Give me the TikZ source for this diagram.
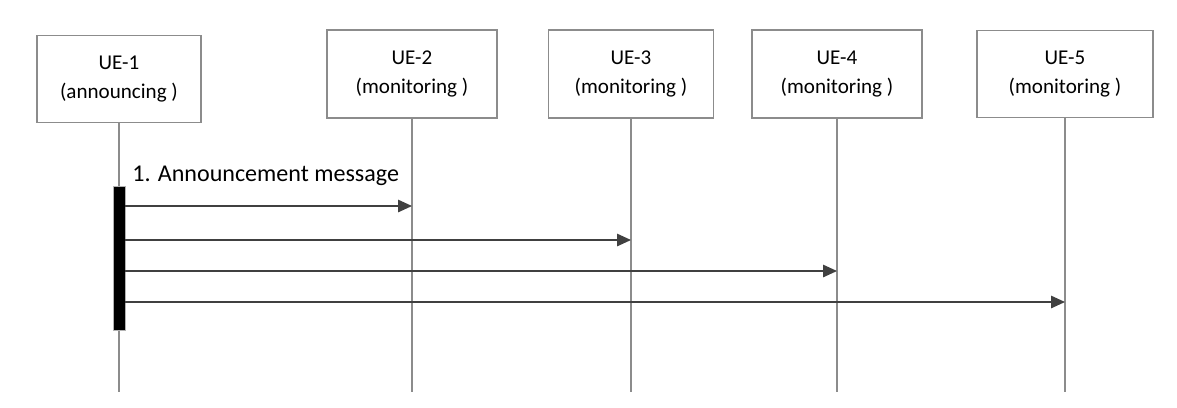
\documentclass[tikz,border=0pt]{standalone}
\usepackage{fontspec}
\setmainfont{Carlito}
\usetikzlibrary{arrows.meta}

\begin{document}
\begin{tikzpicture}[x=0.02cm,y=-0.02cm,
    ue/.style={draw=gray!90,thick,fill=white,align=center,font=\fontsize{12}{17}\selectfont,inner sep=0pt},
    life/.style={gray!90,thick},
    msg/.style={black!75,thick,-{Triangle[length=0.28cm,width=0.25cm]}}]
  \useasboundingbox (0,0) rectangle (1177,407);
  % the five UEs
  \node[ue,minimum width=3.28cm,minimum height=1.74cm] (ue1) at (119,79) {UE-1\\(announcing )};
  \node[ue,minimum width=3.40cm,minimum height=1.76cm] (ue2) at (412,74) {UE-2\\(monitoring )};
  \node[ue,minimum width=3.30cm,minimum height=1.76cm] (ue3) at (631,74) {UE-3\\(monitoring )};
  \node[ue,minimum width=3.40cm,minimum height=1.76cm] (ue4) at (837,74) {UE-4\\(monitoring )};
  \node[ue,minimum width=3.52cm,minimum height=1.74cm] (ue5) at (1065,74) {UE-5\\(monitoring )};
  % lifelines
  \foreach \n in {1,...,5}{
    \coordinate (end\n) at (ue\n.south |- 0,392);
    \draw[life] (ue\n.south) -- (end\n);
  }
  % activation of UE-1
  \node[fill=black,draw=gray!60,minimum width=0.24cm,minimum height=2.88cm,inner sep=0pt] (act) at (119,258) {};
  \node[anchor=west,font=\fontsize{13.7}{16}\selectfont,inner sep=0pt] (lbl) at (132,176) {1. Announcement message};
  \coordinate (m2) at (act.east |- 0,206);
  \coordinate (m3) at (act.east |- 0,240);
  \coordinate (m4) at (act.east |- 0,271);
  \coordinate (m5) at (act.east |- 0,302);
  \foreach \n in {2,...,5}
    \draw[msg] (m\n) -- (m\n -| ue\n.south);
\end{tikzpicture}
\end{document}
